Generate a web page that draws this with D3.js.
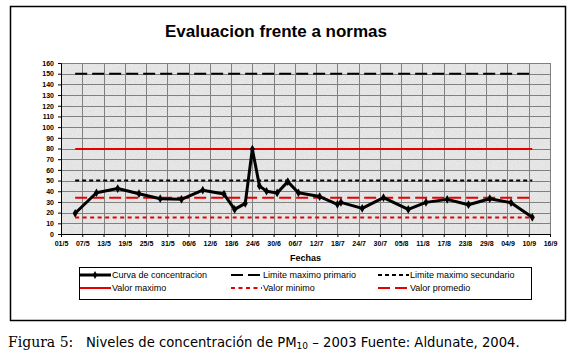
<!DOCTYPE html>
<html>
<head>
<meta charset="utf-8">
<script src="https://cdn.jsdelivr.net/npm/d3@7"></script>
<style>
  body { margin: 0; background: #fff; }
  svg { display: block; font-family: "Liberation Sans", Arial, sans-serif; }
</style>
</head>
<body>
<div id="container"></div>
<script>
/* DATA */
const fechas = ["2003-05-05","2003-05-11","2003-05-17","2003-05-23","2003-05-29","2003-06-04",
  "2003-06-10","2003-06-16","2003-06-19","2003-06-22","2003-06-24","2003-06-26","2003-06-28",
  "2003-07-01","2003-07-04","2003-07-07","2003-07-13","2003-07-18","2003-07-19","2003-07-25",
  "2003-07-31","2003-08-07","2003-08-12","2003-08-18","2003-08-24","2003-08-30","2003-09-05",
  "2003-09-11"]
const concentracion = [19.4, 38.6, 42.5, 37.7, 33, 32.4, 41, 37.4, 23, 28.7, 79.5, 45, 40,
  38.4, 49, 38.6, 35, 27.8, 29.6, 24, 34, 23, 29.6, 32.4, 27.4, 33, 29.3, 15.6]

const xTickLabels = ["01/5","07/5","13/5","19/5","25/5","31/5","06/6","12/6","18/6","24/6",
  "30/6","06/7","12/7","18/7","24/7","30/7","05/8","11/8","17/8","23/8","29/8","04/9","10/9","16/9"]
const yTicks = d3.range(0, 161, 10)

// reference lines
const limiteNombres = ["Limite maximo primario","Limite maximo secundario","Valor maximo","Valor minimo","Valor promedio"]
const limiteValores = [150, 50, 79.5, 15.5, 34]

/* CONSTANTS */
const width = 574
const height = 355
const parse = d3.timeParse("%Y-%m-%d")
const tickParse = d => d3.timeParse("%d/%m/%Y")(d + "/2003")

const data = fechas.map((f, i) => ({ fecha: parse(f), valor: concentracion[i] }))
const tickDates = xTickLabels.map(tickParse)

const estilos = {
  "Curva de concentracion":   { color: "#000", dash: null, w: 3 },
  "Limite maximo primario":   { color: "#000", dash: "12,5", w: 2 },
  "Limite maximo secundario": { color: "#000", dash: "4,3", w: 2 },
  "Valor maximo":             { color: "#e60000", dash: null, w: 2 },
  "Valor minimo":             { color: "#e60000", dash: "4,3.5", w: 2 },
  "Valor promedio":           { color: "#e60000", dash: "12,5", w: 2 }
}

/* SCALES */
const xScale = d3.scaleTime()
  .domain([tickDates[0], tickDates[tickDates.length - 1]])
  .range([61, 550])
const yScale = d3.scaleLinear()
  .domain([0, 160])
  .range([234, 63])

/* SVG */
const svg = d3.select("#container")
  .append("svg")
  .attr("width", width)
  .attr("height", height)

svg.append("rect").attr("width", width).attr("height", height).attr("fill", "#fff")

// noise texture for plot background
const defs = svg.append("defs")
const filt = defs.append("filter").attr("id", "noise")
  .attr("x", 0).attr("y", 0).attr("width", "100%").attr("height", "100%")
filt.append("feTurbulence").attr("type", "fractalNoise").attr("baseFrequency", 0.9)
  .attr("numOctaves", 2).attr("seed", 4).attr("result", "t")
filt.append("feColorMatrix").attr("in", "t").attr("type", "matrix")
  .attr("values", "0 0 0 0 1  0 0 0 0 1  0 0 0 0 1  -1.6 0 0 0 0.95").attr("result", "n")
filt.append("feComposite").attr("in", "n").attr("in2", "SourceGraphic").attr("operator", "in")

// outer frame
svg.append("rect")
  .attr("x", 10.5).attr("y", 6.5)
  .attr("width", 555).attr("height", 314)
  .attr("fill", "none").attr("stroke", "#000").attr("stroke-width", 1.5)

// title
svg.append("text")
  .attr("x", 276).attr("y", 37)
  .attr("text-anchor", "middle")
  .attr("font-size", 17).attr("font-weight", "bold")
  .text("Evaluacion frente a normas")

// plot background
const [x0, x1] = xScale.range()
const [y0, y1] = yScale.range()
svg.append("rect")
  .attr("x", x0).attr("y", y1).attr("width", x1 - x0).attr("height", y0 - y1)
  .attr("fill", "#e2e2e2")
svg.append("rect")
  .attr("x", x0).attr("y", y1).attr("width", x1 - x0).attr("height", y0 - y1)
  .attr("fill", "#000")
  .attr("opacity", 0.55)
  .attr("filter", "url(#noise)")

// grid
svg.append("g")
  .selectAll("line")
  .data(yTicks)
  .join("line")
  .attr("x1", x0).attr("x2", x1)
  .attr("y1", d => Math.round(yScale(d)) + 0.5)
  .attr("y2", d => Math.round(yScale(d)) + 0.5)
  .attr("stroke", "#808080")
svg.append("g")
  .selectAll("line")
  .data(tickDates)
  .join("line")
  .attr("x1", d => Math.round(xScale(d)) + 0.5)
  .attr("x2", d => Math.round(xScale(d)) + 0.5)
  .attr("y1", y1).attr("y2", y0)
  .attr("stroke", "#808080")

// axes
const xAxis = d3.axisBottom(xScale)
  .tickValues(tickDates)
  .tickFormat((d, i) => xTickLabels[i])
  .tickSize(3)
const yAxis = d3.axisLeft(yScale)
  .tickValues(yTicks)
  .tickSize(3)

const gx = svg.append("g")
  .attr("transform", `translate(0, ${y0})`)
  .call(xAxis)
const gy = svg.append("g")
  .attr("transform", `translate(${x0}, 0)`)
  .call(yAxis)
;[gx, gy].forEach(g => {
  g.selectAll("text").attr("font-size", 7).attr("font-weight", "bold")
    .attr("font-family", "Liberation Sans, Arial, sans-serif").attr("fill", "#000")
  g.select(".domain").attr("stroke", "#000")
})
gx.selectAll("text").attr("dy", "0.9em")
gy.selectAll("text").attr("dx", "-1")

svg.append("text")
  .attr("x", (x0 + x1) / 2).attr("y", 261)
  .attr("text-anchor", "middle")
  .attr("font-size", 9).attr("font-weight", "bold")
  .text("Fechas")

// reference lines (from first to last date)
const first = data[0].fecha, last = data[data.length - 1].fecha
limiteNombres.forEach((n, i) => {
  const s = estilos[n]
  svg.append("line")
    .attr("x1", xScale(first)).attr("x2", xScale(last))
    .attr("y1", yScale(limiteValores[i])).attr("y2", yScale(limiteValores[i]))
    .attr("stroke", s.color).attr("stroke-width", s.w)
    .attr("stroke-dasharray", s.dash)
})

// concentration curve
const line = d3.line().x(d => xScale(d.fecha)).y(d => yScale(d.valor))
svg.append("path")
  .datum(data)
  .attr("d", line)
  .attr("fill", "none")
  .attr("stroke", "#000")
  .attr("stroke-width", 3)
  .attr("stroke-linejoin", "round")
svg.append("g")
  .selectAll("path")
  .data(data)
  .join("path")
  .attr("d", d3.symbol(d3.symbolDiamond, 22))
  .attr("transform", d => `translate(${xScale(d.fecha)}, ${yScale(d.valor)})`)
  .attr("fill", "#000")

/* LEGEND */
svg.append("rect")
  .attr("x", 79.5).attr("y", 267.5).attr("width", 452).attr("height", 32)
  .attr("fill", "#fff").attr("stroke", "#000")

const legendItems = ["Curva de concentracion", "Limite maximo primario", "Limite maximo secundario",
  "Valor maximo", "Valor minimo", "Valor promedio"]
const colX = [80, 231, 378]
const rowY = [275, 288]
const leg = svg.append("g")
  .selectAll("g")
  .data(legendItems)
  .join("g")
  .attr("transform", (d, i) => `translate(${colX[i % 3]}, ${rowY[Math.floor(i / 3)]})`)
leg.append("line")
  .attr("x1", 0).attr("x2", 31)
  .attr("stroke", d => estilos[d].color)
  .attr("stroke-width", d => estilos[d].w)
  .attr("stroke-dasharray", d => estilos[d].dash)
leg.filter(d => d === "Curva de concentracion")
  .append("path")
  .attr("d", d3.symbol(d3.symbolDiamond, 18))
  .attr("transform", "translate(15,0)")
leg.append("text")
  .attr("x", 32).attr("dy", "0.35em")
  .attr("font-size", 9)
  .text(d => d)

/* CAPTION */
const cap = svg.append("text")
  .attr("x", 8).attr("y", 347)
cap.append("tspan")
  .attr("font-family", "DejaVu Serif, serif")
  .attr("font-size", 14)
  .text("Figura 5:")
cap.append("tspan")
  .attr("x", 86)
  .attr("font-family", "DejaVu Sans, sans-serif")
  .attr("font-size", 13.2)
  .text("Niveles de concentración de PM")
cap.append("tspan")
  .attr("font-family", "DejaVu Sans, sans-serif")
  .attr("font-size", 9).attr("dy", 2)
  .text("10")
cap.append("tspan")
  .attr("font-family", "DejaVu Sans, sans-serif")
  .attr("font-size", 13.2).attr("dy", -2)
  .text(" – 2003 Fuente: Aldunate, 2004.")
</script>
</body>
</html>
